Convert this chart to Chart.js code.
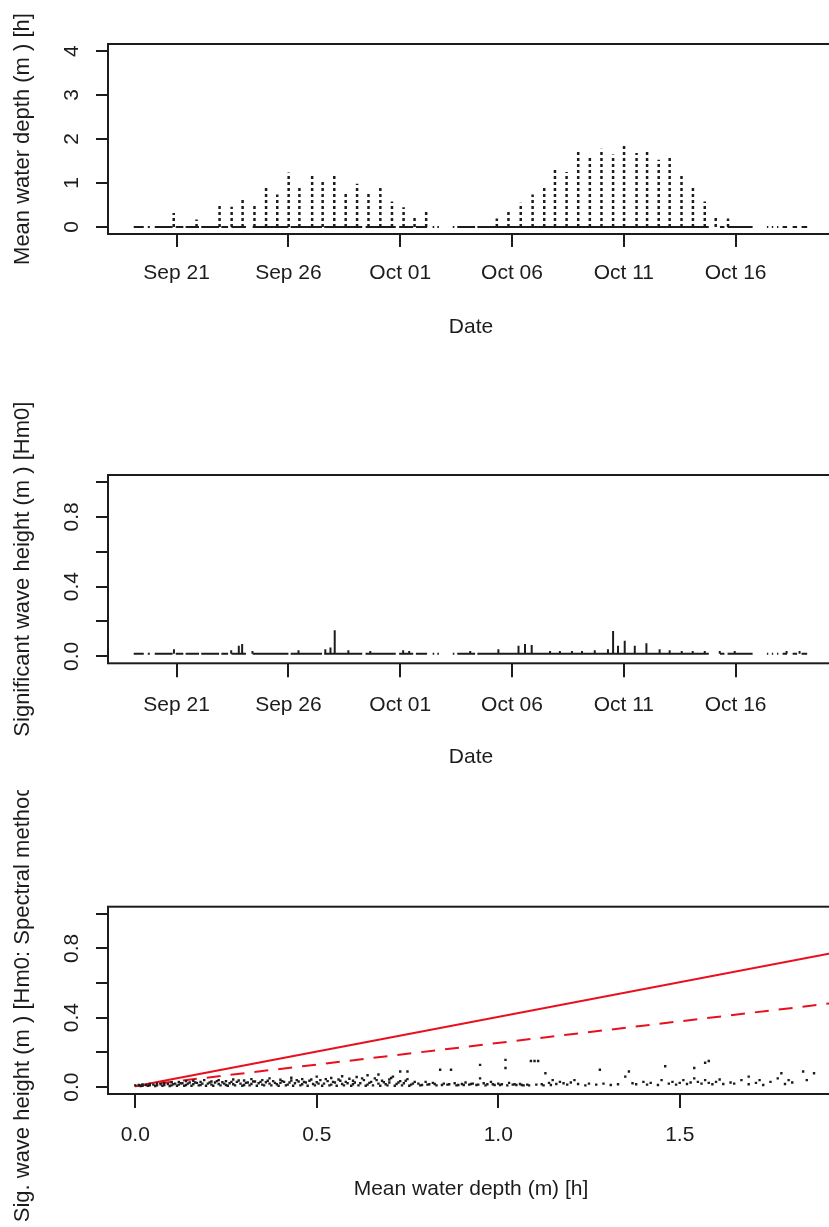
<!DOCTYPE html>
<html>
<head>
<meta charset="utf-8">
<script src="https://cdn.jsdelivr.net/npm/chart.js@4.4.1/dist/chart.umd.min.js"></script>
<style>
  html, body { margin: 0; padding: 0; background: #fff; overflow: hidden; }
  .page { position: relative; width: 829px; height: 1227px; overflow: hidden; }
  .panel { position: absolute; left: 0; }
  .panel canvas { display: block; }
</style>
</head>
<body>
<div class="page">
  <div class="panel" style="top:0px"><canvas id="depthChart" width="900" height="390"></canvas></div>
  <div class="panel" style="top:390px"><canvas id="waveChart" width="900" height="390"></canvas></div>
  <div class="panel" style="top:790px"><canvas id="scatterChart" width="900" height="437"></canvas></div>
</div>
<script>
// time axis: day counted from 1 Sep (Sep 21 = 21, Oct 01 = 31)
const dateTicks = [21, 26, 31, 36, 41, 46];
const dateLabels = ['Sep 21', 'Sep 26', 'Oct 01', 'Oct 06', 'Oct 11', 'Oct 16'];

// stretches where the logger recorded
const recordSpans = [
    [19.08, 19.53], [19.71, 19.80], [20.02, 20.82], [20.96, 21.30], [21.40, 22.00],
    [22.10, 22.90], [23.00, 23.30], [23.45, 24.10], [24.40, 26.00], [26.10, 27.50],
    [27.60, 29.30], [29.45, 30.80], [30.95, 31.58], [31.70, 32.20], [32.45, 32.52],
    [32.66, 32.73], [33.35, 33.42], [33.55, 34.35], [34.45, 44.80], [45.30, 45.50],
    [45.64, 46.76], [47.40, 47.46], [47.62, 47.68], [47.85, 47.91], [48.10, 48.30],
    [48.55, 48.75], [48.95, 49.20]
];

// each flood tide: time of high water and max depth (m)
const tideTimes = [
    20.87, 21.89, 22.92, 23.46, 23.95, 24.48, 25.00, 25.50, 26.01, 26.49,
    27.06, 27.53, 28.05, 28.56, 29.07, 29.58, 30.11, 30.63, 31.15, 31.64,
    32.16, 35.32, 35.84, 36.39, 36.92, 37.44, 37.92, 38.44, 38.96, 39.48,
    40.00, 40.52, 41.01, 41.57, 42.04, 42.56, 43.05, 43.58, 44.09, 44.62,
    45.11, 45.66
];
const tidePeaks = [
    0.32, 0.17, 0.53, 0.46, 0.62, 0.51, 0.92, 0.74, 1.24, 0.90,
    1.20, 1.07, 1.16, 0.77, 0.98, 0.77, 0.92, 0.58, 0.45, 0.24,
    0.40, 0.19, 0.36, 0.55, 0.74, 0.92, 1.34, 1.25, 1.72, 1.58,
    1.78, 1.65, 1.87, 1.68, 1.72, 1.53, 1.57, 1.20, 0.91, 0.58,
    0.24, 0.19
];
const depthTicks = [0, 1, 2, 3, 4];

// wave height: calm level and short wave events
const calmHm0 = 0.015;
const waveTimes = [
    20.88, 23.44, 23.78, 23.93, 24.39, 26.45, 27.65, 27.88, 28.07, 28.68,
    29.66, 31.13, 31.40, 34.13, 35.39, 36.29, 36.58, 36.88, 37.70, 38.14,
    38.68, 39.13, 39.70, 40.29, 40.52, 40.74, 41.04, 41.49, 42.01, 42.60,
    43.05, 43.59, 44.08, 44.62, 45.29, 45.96, 48.28, 48.86
];
const wavePeaks = [
    0.04, 0.035, 0.06, 0.07, 0.03, 0.035, 0.04, 0.05, 0.15, 0.035,
    0.03, 0.035, 0.03, 0.03, 0.04, 0.06, 0.07, 0.065, 0.03, 0.03,
    0.03, 0.03, 0.035, 0.04, 0.145, 0.06, 0.09, 0.06, 0.075, 0.04,
    0.035, 0.03, 0.03, 0.03, 0.03, 0.03, 0.03, 0.03
];
const hm0Ticks = [0, 0.2, 0.4, 0.6, 0.8, 1.0];
const hm0Labels = ['0.0', '', '0.4', '', '0.8', ''];

// Hm0 against mean depth h
const hmPairs = [
    [0.00,0.010],[0.01,0.012],[0.02,0.008],[0.02,0.015],[0.03,0.012],[0.04,0.010],[0.04,0.018],[0.05,0.014],
    [0.06,0.010],[0.06,0.020],[0.07,0.016],[0.08,0.012],[0.08,0.024],[0.09,0.018],[0.10,0.010],[0.10,0.028],
    [0.11,0.020],[0.12,0.014],[0.12,0.030],[0.13,0.022],[0.14,0.012],[0.14,0.034],[0.15,0.026],[0.16,0.016],
    [0.16,0.036],[0.17,0.024],[0.18,0.012],[0.18,0.030],[0.19,0.040],[0.20,0.020],[0.21,0.014],[0.21,0.032],
    [0.22,0.026],[0.23,0.018],[0.23,0.040],[0.24,0.028],[0.25,0.012],[0.25,0.034],[0.26,0.022],[0.27,0.044],
    [0.27,0.016],[0.28,0.030],[0.29,0.020],[0.30,0.038],[0.30,0.012],[0.31,0.026],[0.32,0.046],[0.32,0.018],
    [0.33,0.032],[0.34,0.022],[0.35,0.040],[0.35,0.014],[0.36,0.028],[0.37,0.050],[0.37,0.020],[0.38,0.034],
    [0.39,0.016],[0.40,0.042],[0.40,0.024],[0.41,0.030],[0.42,0.014],[0.43,0.038],[0.43,0.054],[0.44,0.022],
    [0.45,0.032],[0.46,0.016],[0.46,0.046],[0.47,0.026],[0.48,0.036],[0.49,0.018],[0.50,0.060],[0.50,0.028],
    [0.51,0.040],[0.52,0.020],[0.53,0.034],[0.54,0.052],[0.54,0.014],[0.55,0.026],[0.56,0.044],[0.57,0.018],
    [0.57,0.062],[0.58,0.030],[0.59,0.048],[0.60,0.016],[0.60,0.036],[0.61,0.058],[0.62,0.022],[0.63,0.040],
    [0.64,0.014],[0.64,0.068],[0.65,0.030],[0.66,0.050],[0.67,0.020],[0.67,0.072],[0.68,0.036],[0.69,0.016],
    [0.70,0.044],[0.70,0.026],[0.71,0.060],[0.72,0.018],[0.73,0.090],[0.73,0.034],[0.74,0.022],[0.75,0.090],
    [0.75,0.046],[0.76,0.014],[0.77,0.030],
    [0.015,0.006],[0.035,0.007],[0.055,0.006],[0.075,0.008],[0.095,0.006],[0.105,0.016],[0.115,0.008],[0.125,0.022],
    [0.135,0.008],[0.145,0.020],[0.155,0.008],[0.165,0.026],[0.175,0.010],[0.185,0.020],[0.195,0.008],[0.205,0.026],
    [0.215,0.008],[0.225,0.034],[0.235,0.010],[0.245,0.020],[0.255,0.008],[0.265,0.030],[0.275,0.010],[0.285,0.038],
    [0.295,0.008],[0.305,0.024],[0.315,0.010],[0.325,0.032],[0.335,0.008],[0.345,0.030],[0.355,0.010],[0.365,0.036],
    [0.375,0.010],[0.385,0.024],[0.395,0.008],[0.405,0.034],[0.415,0.010],[0.425,0.026],[0.435,0.008],[0.445,0.040],
    [0.455,0.010],[0.465,0.030],[0.475,0.008],[0.485,0.044],[0.495,0.010],[0.505,0.020],[0.515,0.008],[0.525,0.046],
    [0.535,0.010],[0.545,0.030],[0.555,0.008],[0.565,0.036],[0.575,0.010],[0.585,0.022],[0.595,0.008],[0.605,0.026],
    [0.615,0.010],[0.625,0.050],[0.635,0.008],[0.645,0.024],[0.655,0.010],[0.665,0.040],[0.675,0.008],[0.685,0.028],
    [0.695,0.010],[0.705,0.052],[0.715,0.008],[0.725,0.026],[0.735,0.010],[0.745,0.036],[0.755,0.008],[0.765,0.020],
    [0.78,0.020],[0.79,0.012],[0.80,0.030],[0.81,0.016],[0.82,0.024],[0.83,0.010],[0.84,0.100],[0.85,0.020],
    [0.86,0.014],[0.87,0.100],[0.88,0.022],[0.89,0.012],[0.90,0.018],[0.91,0.026],[0.92,0.014],[0.93,0.020],
    [0.94,0.012],[0.95,0.128],[0.95,0.050],[0.96,0.022],[0.97,0.016],[0.98,0.030],[0.99,0.012],[1.00,0.020],
    [1.01,0.016],[1.02,0.157],[1.02,0.110],[1.03,0.024],[1.04,0.014],[1.05,0.012],[1.06,0.018],[1.07,0.010],
    [1.08,0.014],[1.09,0.150],[1.10,0.150],[1.11,0.150],[1.12,0.016],[1.13,0.080],[1.14,0.024],[1.15,0.040],
    [0.785,0.010],[0.805,0.014],[0.825,0.018],[0.845,0.012],[0.865,0.016],[0.885,0.010],[0.905,0.012],[0.925,0.018],
    [0.945,0.014],[0.965,0.010],[0.985,0.016],[1.005,0.012],[1.025,0.010],[1.045,0.016],[1.065,0.012],[1.085,0.010],
    [1.105,0.014],[1.125,0.010],[1.145,0.012],
    [1.16,0.018],[1.17,0.030],[1.18,0.022],[1.19,0.014],[1.20,0.026],[1.21,0.040],[1.22,0.018],[1.24,0.010],
    [1.25,0.020],[1.27,0.014],[1.28,0.100],[1.29,0.020],[1.31,0.012],[1.33,0.016],[1.35,0.060],[1.36,0.090],
    [1.37,0.022],[1.38,0.016],[1.40,0.030],[1.41,0.014],[1.42,0.024],[1.44,0.012],[1.45,0.040],[1.46,0.120],
    [1.47,0.020],[1.48,0.030],[1.49,0.014],[1.50,0.024],[1.51,0.040],[1.52,0.018],[1.53,0.026],[1.54,0.110],
    [1.54,0.050],[1.55,0.030],[1.56,0.020],[1.57,0.140],[1.57,0.040],[1.58,0.150],[1.58,0.024],[1.59,0.016],
    [1.60,0.030],[1.61,0.044],[1.62,0.018],[1.64,0.026],[1.65,0.020],[1.67,0.040],[1.69,0.060],[1.69,0.016],
    [1.71,0.024],[1.72,0.040],[1.73,0.012],[1.75,0.030],[1.77,0.050],[1.78,0.080],[1.79,0.018],[1.80,0.040],
    [1.81,0.026],[1.84,0.090],[1.85,0.040],[1.87,0.080]
];
const depthAxisTicks = [0, 0.5, 1.0, 1.5];
const depthAxisLabels = ['0.0', '0.5', '1.0', '1.5'];

// breaking limits drawn over the depth range
const limitDepth = [0.0, 1.925];
const limitHigh = [0.005, 0.775];
const limitLow = [0.005, 0.485];

const ink = '#1c1c1c';
const fontFamily = '"Liberation Sans", Arial, Helvetica, sans-serif';
const tickFont = { family: fontFamily, size: 21 };
const titleFont = { family: fontFamily, size: 22 };

// R-style closed box around the plot region
const boxPlugin = {
    id: 'plotBox',
    afterDraw(chart) {
        const { ctx, chartArea: a } = chart;
        ctx.save();
        ctx.strokeStyle = ink;
        ctx.lineWidth = 2;
        ctx.strokeRect(a.left, a.top, a.right - a.left, a.bottom - a.top);
        ctx.restore();
    }
};

const spanLine = (level) => recordSpans.flatMap(([a, b]) => [{ x: a, y: level }, { x: b, y: level }, { x: b, y: null }]);
const stems = (times, peaks, base) => times.flatMap((t, i) => [{ x: t, y: base }, { x: t, y: peaks[i] }, { x: t, y: null }]);

const makeAxes = (cfg) => ({
    x: {
        type: 'linear',
        min: cfg.xMin,
        max: cfg.xMax,
        afterBuildTicks: (s) => { s.ticks = cfg.xTicks.map(v => ({ value: v })); },
        afterFit: (s) => { s.height = cfg.xHeight; },
        grid: { drawOnChartArea: false, drawTicks: true, tickLength: cfg.xTickLen, color: ink, lineWidth: 2 },
        border: { display: false },
        ticks: {
            autoSkip: false, maxRotation: 0, padding: cfg.xPad, color: ink, font: tickFont,
            callback: (v, i) => cfg.xLabels[i]
        },
        title: { display: true, text: cfg.xTitle, color: ink, font: tickFont, padding: { top: 0, bottom: cfg.xTitlePad } }
    },
    y: {
        type: 'linear',
        min: cfg.yMin,
        max: cfg.yMax,
        afterBuildTicks: (s) => { s.ticks = cfg.yTicks.map(v => ({ value: v })); },
        afterFit: (s) => { s.width = 108; },
        grid: { drawOnChartArea: false, drawTicks: true, tickLength: 12, color: ink, lineWidth: 2 },
        border: { display: false },
        ticks: {
            autoSkip: false, minRotation: 90, maxRotation: 90, crossAlign: 'center', padding: cfg.yPad,
            color: ink, font: tickFont,
            callback: (v, i) => cfg.yLabels[i]
        },
        title: { display: true, text: cfg.yTitle, color: ink, font: titleFont, padding: { top: 10, bottom: 0 } }
    }
});

const baseOptions = (padding, scales) => ({
    responsive: false,
    animation: false,
    layout: { padding },
    plugins: { legend: { display: false }, tooltip: { enabled: false } },
    elements: { point: { radius: 0 }, line: { tension: 0 } },
    scales
});

new Chart(document.getElementById('depthChart'), {
    type: 'line',
    data: {
        datasets: [
            { data: spanLine(0), borderColor: ink, borderWidth: 2, spanGaps: false },
            { data: stems(tideTimes, tidePeaks, 0), borderColor: ink, borderWidth: 2.5, borderDash: [3, 3], spanGaps: false }
        ]
    },
    options: baseOptions({ top: 44, right: 66, bottom: 0, left: 0 }, makeAxes({
        xMin: 17.93, xMax: 50.4, xTicks: dateTicks, xLabels: dateLabels, xHeight: 156,
        xTickLen: 13, xPad: 14, xTitle: 'Date', xTitlePad: 50,
        yMin: -0.16, yMax: 4.16, yTicks: depthTicks, yLabels: depthTicks.map(String), yPad: 18,
        yTitle: 'Mean water depth (m ) [h]'
    })),
    plugins: [boxPlugin]
});

new Chart(document.getElementById('waveChart'), {
    type: 'line',
    data: {
        datasets: [
            { data: spanLine(calmHm0), borderColor: ink, borderWidth: 2, spanGaps: false },
            { data: stems(waveTimes, wavePeaks, calmHm0), borderColor: ink, borderWidth: 2, spanGaps: false }
        ]
    },
    options: baseOptions({ top: 85, right: 66, bottom: 0, left: 0 }, makeAxes({
        xMin: 17.93, xMax: 50.4, xTicks: dateTicks, xLabels: dateLabels, xHeight: 116.7,
        xTickLen: 14, xPad: 15, xTitle: 'Date', xTitlePad: 10,
        yMin: -0.04, yMax: 1.04, yTicks: hm0Ticks, yLabels: hm0Labels, yPad: 9,
        yTitle: 'Significant wave height (m ) [Hm0]'
    })),
    plugins: [boxPlugin]
});

new Chart(document.getElementById('scatterChart'), {
    type: 'line',
    data: {
        datasets: [
            {
                data: hmPairs.map(([h, hm]) => ({ x: h, y: hm })), showLine: false,
                pointRadius: 1.7, pointStyle: 'rect', pointBackgroundColor: ink, pointBorderWidth: 0
            },
            { data: limitDepth.map((h, i) => ({ x: h, y: limitHigh[i] })), borderColor: '#e8101e', borderWidth: 2 },
            { data: limitDepth.map((h, i) => ({ x: h, y: limitLow[i] })), borderColor: '#e8101e', borderWidth: 2, borderDash: [14, 10] }
        ]
    },
    options: baseOptions({ top: 116.7, right: 66, bottom: 0, left: 0 }, makeAxes({
        xMin: -0.075, xMax: 1.925, xTicks: depthAxisTicks, xLabels: depthAxisLabels, xHeight: 133,
        xTickLen: 14, xPad: 15, xTitle: 'Mean water depth (m) [h]', xTitlePad: 25,
        yMin: -0.04, yMax: 1.04, yTicks: hm0Ticks, yLabels: hm0Labels, yPad: 9,
        yTitle: 'Sig. wave height (m ) [Hm0: Spectral method]'
    })),
    plugins: [boxPlugin]
});
</script>
</body>
</html>
